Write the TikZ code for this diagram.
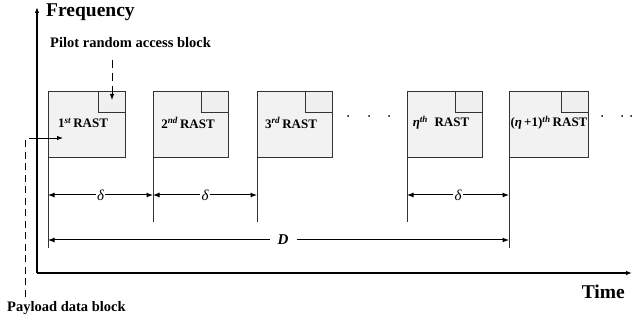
\documentclass[tikz,border=0pt]{standalone}
\usepackage{fontspec}
\setmainfont{Liberation Serif}
\usetikzlibrary{arrows.meta}
\begin{document}
\begin{tikzpicture}[x=1pt,y=1pt,
  tip/.style={-{Latex[length=6pt,width=4.5pt]}},
  dim/.style={{Latex[length=6.5pt,width=5pt]}-{Latex[length=6.5pt,width=5pt]}, line width=1pt},
  rast/.style={draw=black!80, line width=1pt, fill=black!5, minimum height=66pt, inner sep=0pt, anchor=north west},
  pilotbox/.style={draw=black!80, line width=1pt, fill=black!6, minimum width=27pt, minimum height=21pt, inner sep=0pt, anchor=north east},
  rlabel/.style={font=\fontsize{13}{14}\selectfont\bfseries, inner sep=0pt},
  lab/.style={fill=white, inner sep=1.5pt, font=\fontsize{15}{16}\selectfont\itshape},
  big/.style={font=\fontsize{19.5}{21}\selectfont\bfseries, inner sep=0pt},
  mid/.style={font=\fontsize{14.5}{16}\selectfont\bfseries, inner sep=0pt},
  edge/.style={line width=1pt, draw=black!80},
  dotlab/.style={circle, fill=black, inner sep=0pt, minimum size=2pt}
]
\useasboundingbox (0,0) rectangle (632,324);

% axes
\coordinate (O) at (37,51);
\coordinate (ytop) at (37,317);
\coordinate (xend) at (632,51);
\draw[tip, line width=1.2pt] (O) -- (ytop);
\draw[tip, line width=1.2pt] (O) -- (xend);
\node[big, anchor=west] (freq) at (46,312) {Frequency};
\node[big, anchor=east] (time) at (625,32) {Time};

% boxes
\node[rast, minimum width=77pt] (b1) at (48,233) {};
\node[rast, minimum width=75pt] (b2) at (153,233) {};
\node[rast, minimum width=75pt] (b3) at (257,233) {};
\node[rast, minimum width=75pt] (b4) at (407,233) {};
\node[rast, minimum width=79pt] (b5) at (509,233) {};
\foreach \i in {1,...,5} {\node[pilotbox] (p\i) at (b\i.north east) {};}

\node[rlabel] (t1) at (83,201) {1\textsuperscript{\itshape st}\,RAST};
\node[rlabel] (t2) at (188,201) {2\textsuperscript{\itshape nd}\,RAST};
\node[rlabel] (t3) at (291,201) {3\textsuperscript{\itshape rd}\,RAST};
\node[rlabel] (t4) at (441,201) {{\itshape η}\textsuperscript{\itshape th}\ \ RAST};
\node[rlabel] (t5) at (549,201) {(\textit{η}\,+1)\textsuperscript{\itshape th}\,RAST};

% dots
\foreach \x [count=\k] in {348,369,389,602,622,631} {\node[dotlab] (d\k) at (\x,208) {};}

% vertical marker lines
\coordinate (dy) at (0,129);
\coordinate (Dy) at (0,84);
\coordinate (e1) at (48,76);
\coordinate (e2) at (153,102);
\coordinate (e3) at (257,102);
\coordinate (e4) at (407,102);
\coordinate (e5) at (509,76);
\foreach \i in {1,...,5} {\draw[edge] (b\i.south west) -- (e\i);}

% dimension arrows
\draw[dim] (b1.south west |- dy) -- node[lab] {δ} (b2.south west |- dy);
\draw[dim] (b2.south west |- dy) -- node[lab] {δ} (b3.south west |- dy);
\draw[dim] (b4.south west |- dy) -- node[lab] {δ} (b5.south west |- dy);
\draw[dim] (b1.south west |- Dy) -- node[lab, pos=0.51, inner xsep=8pt, font=\fontsize{15}{16}\selectfont\bfseries\itshape] {D} (b5.south west |- Dy);

% pilot random access block
\node[mid, anchor=west] (pilot) at (50,281) {Pilot random access block};
\coordinate (pa) at (112,264);
\coordinate (pb) at (112,224);
\draw[tip, line width=0.9pt, dash pattern=on 8pt off 5pt] (pa) -- (pb);

% payload data block
\node[mid, anchor=west] (payload) at (7,16) {Payload data block};
\coordinate (pl) at (25,27);
\coordinate (pc) at (25,186);
\coordinate (ps) at (29,186);
\coordinate (pe) at (63,186);
\draw[line width=0.9pt, dash pattern=on 7pt off 4.5pt] (pl) -- (pc);
\draw[tip, line width=0.9pt] (ps) -- (pe);
\end{tikzpicture}
\end{document}
